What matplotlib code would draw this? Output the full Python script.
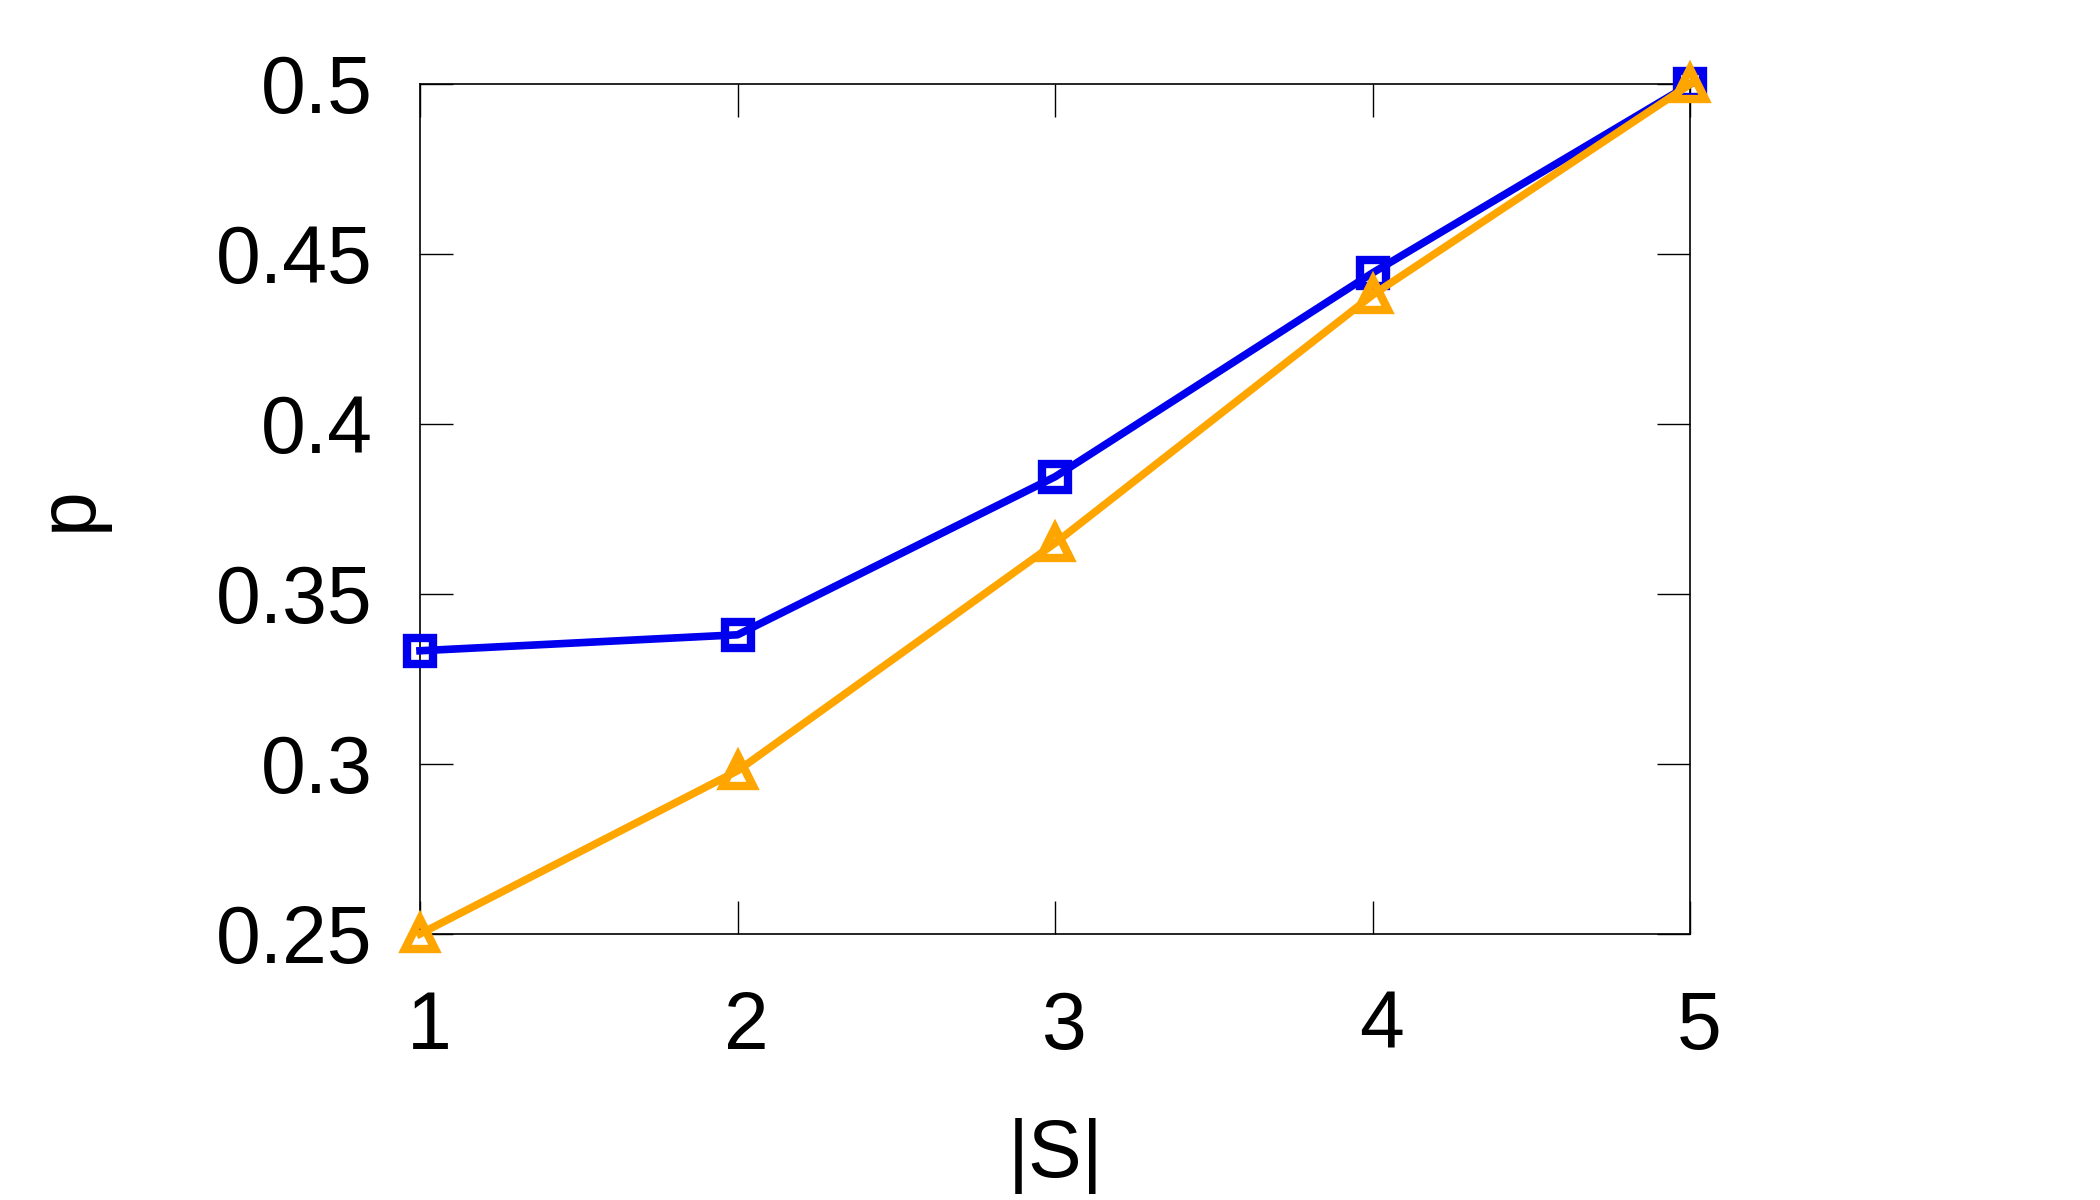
import matplotlib
matplotlib.use('Agg')
import matplotlib.pyplot as plt
import matplotlib.transforms as mtransforms

plt.rcParams['font.family'] = ['Liberation Sans', 'DejaVu Sans']

set_size = [1, 2, 3, 4, 5]
p_blue = [0.3333, 0.338, 0.3845, 0.4445, 0.5]
p_orange = [0.25, 0.298, 0.365, 0.438, 0.5]
yticks = [0.25, 0.3, 0.35, 0.4, 0.45, 0.5]

fig = plt.figure(figsize=(21, 12), dpi=100)
ax = fig.add_axes([0.2, 0.2217, 0.605, 0.7083])

ax.plot(set_size, p_blue, color='#0000ee', lw=5.5, marker='s', ms=19,
        mfc='none', mec='#0000ee', mew=6, clip_on=False, zorder=3)
ax.plot(set_size, p_orange, color='#ffa500', lw=5.5, marker='^', ms=22,
        mfc='none', mec='#ffa500', mew=6, clip_on=False, zorder=4)

ax.set_xlim(1, 5)
ax.set_ylim(0.25, 0.5)
ax.set_xticks(set_size)
ax.set_yticks(yticks)
ax.set_yticklabels(['0.25', '0.3', '0.35', '0.4', '0.45', '0.5'])

ax.tick_params(direction='in', length=24, width=1, labelsize=58,
               top=True, right=True)
ax.tick_params(axis='y', pad=34)
ax.tick_params(axis='x', pad=40)
for s in ax.spines.values():
    s.set_linewidth(1.2)

# gnuplot-ish: x labels sit a little right of the tick
shift = mtransforms.ScaledTranslation(9 / 100, 0, fig.dpi_scale_trans)
for lbl in ax.get_xticklabels():
    lbl.set_transform(lbl.get_transform() + shift)

ax.set_xlabel('|S|', fontsize=58)
ax.set_ylabel('p', fontsize=58)
ax.xaxis.set_label_coords(0.5, -0.217)
ax.yaxis.set_label_coords(-0.246, 0.5)

fig.savefig('out.png', dpi=100)
